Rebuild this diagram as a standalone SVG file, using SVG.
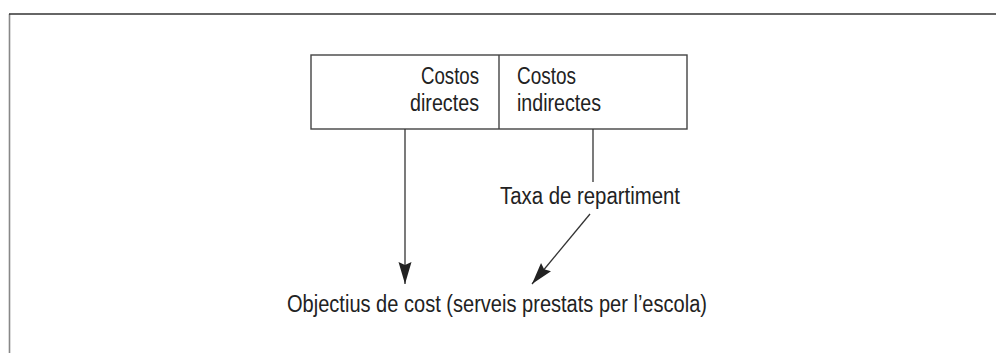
<svg xmlns="http://www.w3.org/2000/svg" width="997" height="353" viewBox="0 0 997 353">
<style>
text{font-family:"Liberation Sans",Arial,sans-serif;font-size:23px;fill:#222}
.ln{stroke:#333;stroke-width:1.3;fill:none}
.box{stroke:#444;stroke-width:1.4;fill:#fff}
</style>
<defs>
<marker id="ah" markerUnits="userSpaceOnUse" markerWidth="24" markerHeight="14" refX="22" refY="6.5" orient="auto">
<path d="M0,0 L22,6.5 L0,13 L3,6.5 z" fill="#222"/>
</marker>
</defs>
<g id="frame">
<line x1="9.5" y1="14" x2="9.5" y2="353" stroke="#888" stroke-width="1.6"/>
<line x1="9" y1="14" x2="996" y2="14" stroke="#333" stroke-width="1.3"/>
</g>
<g id="costs">
<rect class="box" x="311" y="55" width="376" height="74"/>
<line class="box" x1="499" y1="55" x2="499" y2="129"/>
<text x="479" y="84" text-anchor="end" textLength="58" lengthAdjust="spacingAndGlyphs">Costos</text>
<text x="479" y="111" text-anchor="end" textLength="69" lengthAdjust="spacingAndGlyphs">directes</text>
<text x="517" y="84" textLength="59" lengthAdjust="spacingAndGlyphs">Costos</text>
<text x="517" y="111" textLength="84" lengthAdjust="spacingAndGlyphs">indirectes</text>
</g>
<g id="taxa">
<text x="500" y="204" textLength="180" lengthAdjust="spacingAndGlyphs">Taxa de repartiment</text>
</g>
<g id="objectius">
<text x="287" y="312" textLength="420" lengthAdjust="spacingAndGlyphs">Objectius de cost (serveis prestats per l’escola)</text>
</g>
<g id="connectors">
<line class="ln" x1="405" y1="129" x2="405" y2="284" marker-end="url(#ah)"/>
<line class="ln" x1="593" y1="129" x2="593" y2="182"/>
<line class="ln" x1="590" y1="214" x2="532" y2="284" marker-end="url(#ah)"/>
</g>
</svg>
